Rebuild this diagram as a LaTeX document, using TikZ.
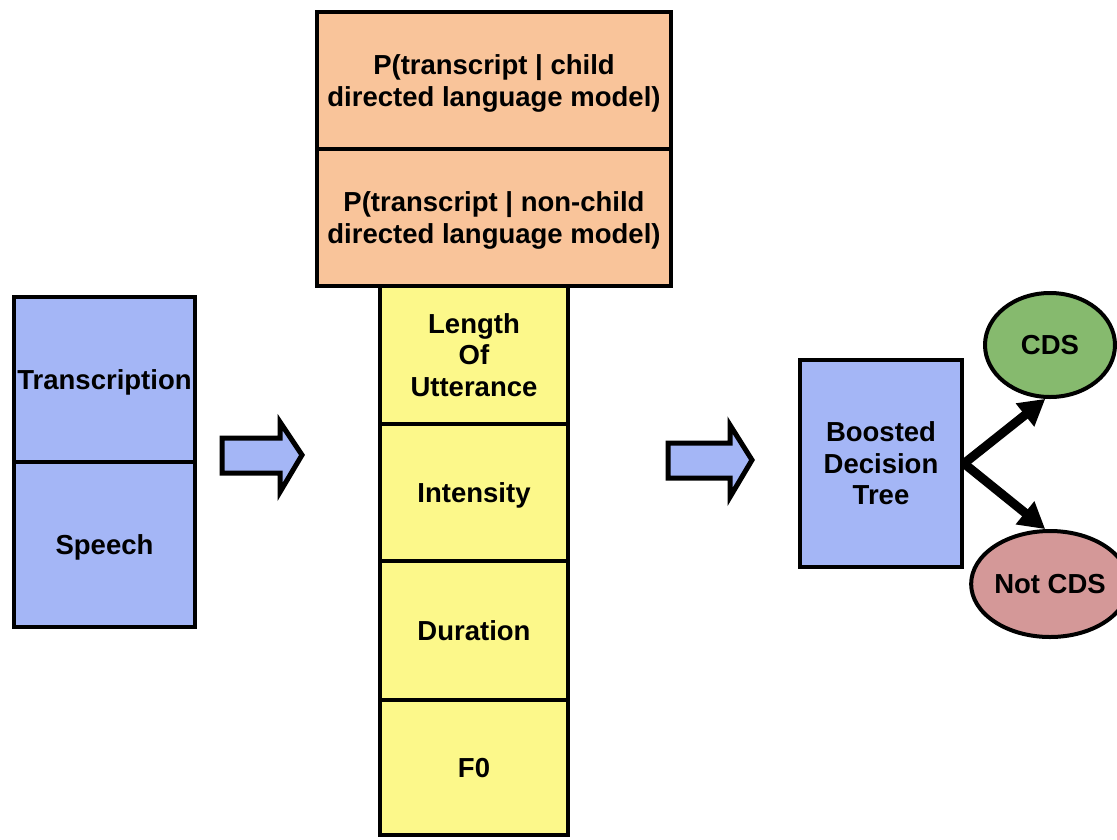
\documentclass[tikz,border=0pt]{standalone}
\usepackage{fontspec}
\setmainfont{Liberation Sans}
\usetikzlibrary{arrows.meta,shapes.geometric}

\definecolor{cellblue}{RGB}{164,182,246}
\definecolor{cellpeach}{RGB}{249,196,154}
\definecolor{cellyellow}{RGB}{252,248,138}
\definecolor{leafgreen}{RGB}{134,186,110}
\definecolor{leafrose}{RGB}{212,152,152}

\tikzset{
  cell/.style={draw=black, line width=4pt, rectangle, inner sep=0pt,
    align=center, text depth=0pt, font=\fontsize{27.5}{31.5}\selectfont\bfseries},
  leaf/.style={draw=black, line width=4pt, ellipse, inner sep=0pt,
    align=center, font=\fontsize{27.5}{31.5}\selectfont\bfseries},
  blockarrow/.style={draw=black, line width=5pt, line join=miter, fill=cellblue},
  decision/.style={line width=9pt, -{Triangle[length=26pt,width=28pt]}},
}

\begin{document}
\begin{tikzpicture}[x=1pt,y=-1pt]
  \useasboundingbox (0,0) rectangle (1117,839);

  % input: transcription over speech
  \node[cell, fill=cellblue, minimum width=181pt, minimum height=165pt] (trans) at (104.5,379.5) {Transcription};
  \node[cell, fill=cellblue, minimum width=181pt, minimum height=165pt] (speech) at (104.5,544.5) {Speech};

  % language model scores
  \node[cell, fill=cellpeach, minimum width=354pt, minimum height=137pt] (pcd) at (494,80.5) {P(transcript | child\\directed language model)};
  \node[cell, fill=cellpeach, minimum width=354pt, minimum height=137pt] (pncd) at (494,217.5) {P(transcript | non-child\\directed language model)};

  % prosodic and length features
  \node[cell, fill=cellyellow, minimum width=188pt, minimum height=138pt] (len) at (474,355) {Length\\Of\\Utterance};
  \node[cell, fill=cellyellow, minimum width=188pt, minimum height=137pt] (int) at (474,492.5) {Intensity};
  \node[cell, fill=cellyellow, minimum width=188pt, minimum height=139pt] (dur) at (474,630.5) {Duration};
  \node[cell, fill=cellyellow, minimum width=188pt, minimum height=135pt] (f0) at (474,767.5) {F0};

  % classifier
  \node[cell, fill=cellblue, minimum width=162pt, minimum height=207pt] (bdt) at (881,463.5) {Boosted\\Decision\\Tree};

  % outcomes
  \node[leaf, fill=leafgreen, minimum width=130pt, minimum height=104pt] (cds) at (1050,345) {CDS};
  \node[leaf, fill=leafrose, minimum width=132pt, minimum height=106pt] (ncds) at (1050,584) {Not CDS};

  % block arrows between stages
  \draw[blockarrow] (222,438) -- (280,438) -- (280,422) -- (302,455) -- (280,492) -- (280,473) -- (222,473) -- cycle;
  \draw[blockarrow] (668,443) -- (730,443) -- (730,425) -- (752,460) -- (730,497) -- (730,478) -- (668,478) -- cycle;

  % decision arrows
  \draw[decision] (bdt.east) -- (cds.-95);
  \draw[decision] (bdt.east) -- (ncds.95);
\end{tikzpicture}
\end{document}
